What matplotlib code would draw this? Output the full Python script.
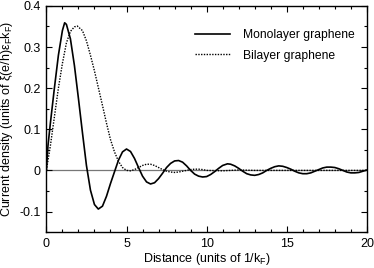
import matplotlib
matplotlib.use("Agg")
import matplotlib.pyplot as plt
from matplotlib.ticker import MultipleLocator

plt.rcParams['font.family'] = ['Liberation Sans', 'DejaVu Sans']
plt.rcParams['mathtext.fontset'] = 'custom'
plt.rcParams['mathtext.rm'] = 'Liberation Sans'
plt.rcParams['mathtext.it'] = 'Liberation Sans'

mono_x = [0, 0.1, 0.25, 0.5, 0.75, 1.0, 1.14, 1.25, 1.5, 1.75, 2.0, 2.25, 2.5, 2.75, 3.0, 3.24,
          3.5, 3.75, 4.0, 4.28, 4.5, 4.75, 5.0, 5.25, 5.5, 5.75, 6.0, 6.25, 6.5, 6.75, 7.0, 7.25,
          7.5, 7.75, 8.0, 8.25, 8.5, 8.75, 9.0, 9.25, 9.5, 9.75, 10.0, 10.25, 10.5, 10.75, 11.0,
          11.3, 11.5, 11.75, 12.0, 12.25, 12.5, 12.75, 13.0, 13.25, 13.5, 13.75, 14.0, 14.25,
          14.5, 14.75, 15.0, 15.25, 15.5, 15.75, 16.0, 16.25, 16.5, 16.75, 17.0, 17.25, 17.5,
          17.75, 18.0, 18.25, 18.5, 18.75, 19.0, 19.25, 19.5, 19.75, 20.0]
mono_y = [0, 0.06, 0.115, 0.2, 0.28, 0.34, 0.359, 0.355, 0.32, 0.255, 0.175, 0.092, 0.012, -0.048,
          -0.083, -0.094, -0.087, -0.063, -0.032, 0.0, 0.025, 0.045, 0.052, 0.046, 0.029, 0.007,
          -0.014, -0.028, -0.033, -0.03, -0.02, -0.007, 0.007, 0.017, 0.023, 0.024, 0.02, 0.011,
          0.0, -0.009, -0.014, -0.016, -0.015, -0.01, -0.003, 0.005, 0.012, 0.016, 0.015, 0.011,
          0.005, -0.002, -0.008, -0.011, -0.012, -0.01, -0.006, 0.0, 0.005, 0.009, 0.011, 0.01,
          0.007, 0.003, -0.002, -0.006, -0.008, -0.008, -0.006, -0.002, 0.002, 0.006, 0.008,
          0.008, 0.007, 0.004, 0.0, -0.004, -0.006, -0.006, -0.005, -0.002, 0.001]

bi_x = [0, 0.25, 0.5, 0.75, 1.0, 1.25, 1.5, 1.75, 1.93, 2.25, 2.5, 2.75, 3.0, 3.25, 3.5, 3.75,
        4.0, 4.25, 4.5, 4.75, 5.0, 5.25, 5.5, 5.75, 6.0, 6.25, 6.5, 6.75, 7.0, 7.25, 7.5, 7.75,
        8.0, 8.25, 8.5, 8.75, 9.0, 9.25, 9.5, 9.75, 10.0, 11.0, 12.0, 13.0, 14.0, 15.0, 16.0,
        17.0, 18.0, 19.0, 20.0]
bi_y = [0, 0.06, 0.13, 0.2, 0.26, 0.31, 0.338, 0.349, 0.351, 0.34, 0.315, 0.28, 0.242, 0.2,
        0.158, 0.115, 0.075, 0.045, 0.022, 0.007, 0.0, -0.001, 0.002, 0.007, 0.012, 0.015,
        0.015, 0.012, 0.007, 0.002, -0.002, -0.004, -0.005, -0.004, -0.002, 0.0, 0.002, 0.003,
        0.003, 0.002, 0.0, -0.001, 0.001, 0.0, 0.0, 0.0, 0.0, 0.0, 0.0, 0.0, 0.0]

x_ticks = [0, 5, 10, 15, 20]
x_labels = ['0', '5', '10', '15', '20']
y_ticks = [-0.1, 0, 0.1, 0.2, 0.3, 0.4]
y_labels = ['-0.1', '0', '0.1', '0.2', '0.3', '0.4']

fig = plt.figure(figsize=(3.74, 2.68), dpi=100)
ax = fig.add_axes([0.124, 0.134, 0.857, 0.844])

ax.axhline(0, color='#777777', lw=0.9, zorder=1)
ax.plot(mono_x, mono_y, color='black', lw=1.2, label='Monolayer graphene', zorder=3,
        solid_joinstyle='round')
ax.plot(bi_x, bi_y, color='black', lw=1.0, linestyle=(0, (1, 1)), label='Bilayer graphene', zorder=2)

ax.set_xticks(x_ticks)
ax.set_xticklabels(x_labels)
ax.set_yticks(y_ticks)
ax.set_yticklabels(y_labels)
ax.xaxis.set_minor_locator(MultipleLocator(1))
ax.yaxis.set_minor_locator(MultipleLocator(0.05))
ax.set_xlim(0, 20)
ax.set_ylim(-0.15, 0.4)
ax.tick_params(which='both', direction='in', top=True, right=True, labelsize=9, pad=4)
ax.tick_params(which='major', length=4, width=0.8)
ax.tick_params(which='minor', length=2.5, width=0.8)
for s in ax.spines.values():
    s.set_linewidth(1.0)

ax.set_xlabel('Distance (units of 1/k$_\\mathregular{F}$)', fontsize=9, labelpad=1)
ax.set_ylabel('Current density (units of ξ(e/h)ε$_\\mathregular{F}$k$_\\mathregular{F}$)', fontsize=9, labelpad=3)

leg = ax.legend(loc='upper left', bbox_to_anchor=(0.463, 0.897), frameon=False, fontsize=8.7,
                handlelength=2.95, handletextpad=1.05, labelspacing=0.7,
                borderpad=0, borderaxespad=0)

fig.savefig('out.png', dpi=100)
